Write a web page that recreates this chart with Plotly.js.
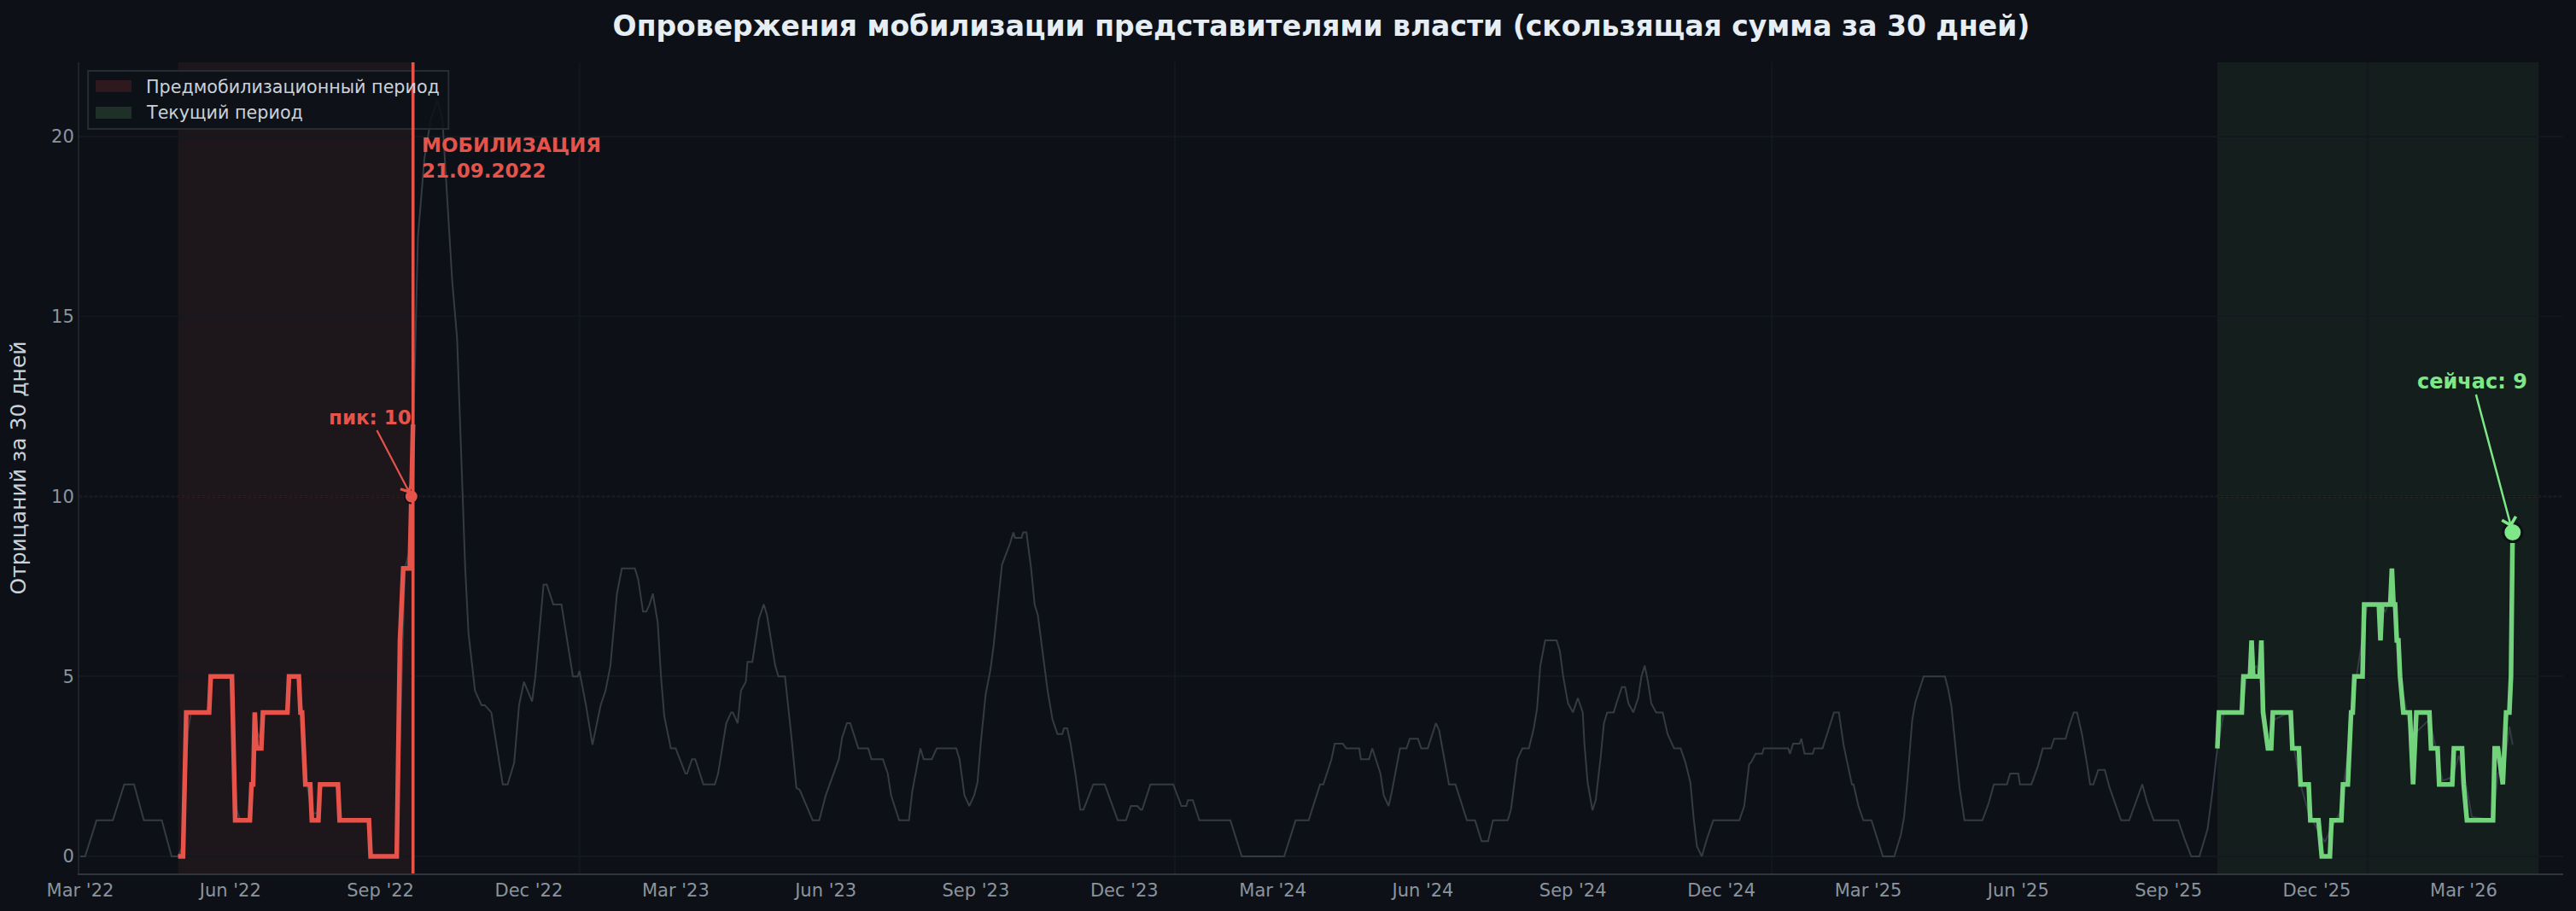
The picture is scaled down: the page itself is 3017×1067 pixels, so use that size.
<!DOCTYPE html>
<html>
<head>
<meta charset="utf-8">
<script src="https://cdn.plot.ly/plotly-3.0.1.min.js"></script>
<style>html,body{margin:0;padding:0;background:#0d1117;}</style>
</head>
<body>
<div id="chart" style="width:3017px;height:1067px;"></div>
<script>
// ---- DATA ----
const chartTitle = "Опровержения мобилизации представителями власти (скользящая сумма за 30 дней)";
const yLabel = "Отрицаний за 30 дней";

// whole series (rolling 30-day sum), [date, value]
const allSeries = [
["2022-03-01",0],["2022-03-04",0],["2022-03-11",1],["2022-03-21",1],["2022-03-28",2],["2022-04-03",2],["2022-04-09",1],["2022-04-20",1],["2022-04-26",0],["2022-04-30",0],
["2022-05-03",0.3],["2022-05-06",3.5],["2022-05-08",4],["2022-05-18",4],["2022-05-21",5],["2022-06-01",5],["2022-06-05",1.3],["2022-06-07",1],["2022-06-12",1],["2022-06-15",2.5],["2022-06-17",3.5],["2022-06-19",3.3],["2022-06-22",4],["2022-07-05",4],["2022-07-08",5],["2022-07-13",5],["2022-07-16",3.5],["2022-07-18",2],["2022-07-21",1.2],["2022-07-25",1.2],["2022-07-27",2],["2022-08-05",2],["2022-08-08",1],["2022-08-24",1],["2022-08-27",0],["2022-09-11",0],["2022-09-14",5],["2022-09-16",8],["2022-09-19",8.5],["2022-09-21",11.5],
["2022-09-24",17.2],["2022-09-28",19.4],["2022-10-02",20.5],["2022-10-06",21],["2022-10-09",20.5],["2022-10-11",19],["2022-10-15",16],["2022-10-18",14.4],["2022-10-21",10.7],["2022-10-23",8],["2022-10-25",6.2],["2022-10-27",5.4],["2022-10-29",4.6],["2022-11-02",4.2],["2022-11-04",4.2],["2022-11-08",4],["2022-11-15",2],["2022-11-18",2],["2022-11-22",2.6],["2022-11-25",4.2],["2022-11-28",4.85],["2022-12-03",4.3],["2022-12-05",5],["2022-12-10",7.55],["2022-12-12",7.55],["2022-12-16",7],["2022-12-21",7],["2022-12-28",5],["2022-12-31",5],
["2023-01-01",5.15],["2023-01-05",4.2],["2023-01-09",3.1],["2023-01-14",4.2],["2023-01-17",4.6],["2023-01-20",5.3],["2023-01-24",7.3],["2023-01-27",8],["2023-02-04",8],["2023-02-06",7.7],["2023-02-09",6.8],["2023-02-11",6.8],["2023-02-13",7],["2023-02-15",7.3],["2023-02-18",6.5],["2023-02-20",5],["2023-02-22",3.9],["2023-02-26",3],["2023-03-01",3],["2023-03-07",2.3],["2023-03-08",2.3],["2023-03-11",2.7],["2023-03-13",2.7],["2023-03-18",2],["2023-03-25",2],["2023-03-27",2.3],["2023-04-01",3.7],["2023-04-04",4],["2023-04-05",4],["2023-04-08",3.7],["2023-04-10",4.6],["2023-04-13",4.85],["2023-04-14",5.4],["2023-04-17",5.4],["2023-04-21",6.6],["2023-04-24",7],["2023-04-26",6.7],["2023-05-01",5.3],["2023-05-03",5],["2023-05-07",5],["2023-05-11",3.3],["2023-05-14",1.9],["2023-05-16",1.85],["2023-05-21",1.3],["2023-05-24",1],["2023-05-28",1],["2023-06-01",1.7],["2023-06-09",2.7],["2023-06-11",3.3],["2023-06-14",3.7],["2023-06-16",3.7],["2023-06-21",3],["2023-06-27",3],["2023-06-29",2.7],["2023-07-06",2.7],["2023-07-09",2.3],["2023-07-11",1.7],["2023-07-16",1],["2023-07-22",1],["2023-07-24",1.8],["2023-07-28",2.8],["2023-07-29",3],["2023-07-31",2.7],["2023-08-05",2.7],["2023-08-08",3],["2023-08-20",3],["2023-08-22",2.7],["2023-08-25",1.7],["2023-08-28",1.4],["2023-08-31",1.7],["2023-09-02",2.05],["2023-09-04",3.15],["2023-09-07",4.5],["2023-09-10",5.2],["2023-09-12",5.9],["2023-09-15",7.25],["2023-09-17",8.1],["2023-09-22",8.7],["2023-09-24",9],["2023-09-25",8.85],["2023-09-29",8.85],["2023-09-30",9],["2023-10-02",9],["2023-10-05",7.95],["2023-10-07",7],["2023-10-09",6.7],["2023-10-12",5.7],["2023-10-15",4.6],["2023-10-18",3.8],["2023-10-21",3.4],["2023-10-24",3.4],["2023-10-25",3.56],["2023-10-27",3.56],["2023-10-29",3.15],["2023-11-01",2.3],["2023-11-04",1.3],["2023-11-06",1.3],["2023-11-12",2],["2023-11-19",2],["2023-11-27",1],["2023-12-02",1],["2023-12-05",1.4],["2023-12-09",1.4],["2023-12-11",1.3],["2023-12-12",1.3],["2023-12-17",2],["2023-12-31",2],
["2024-01-05",1.4],["2024-01-08",1.4],["2024-01-09",1.56],["2024-01-12",1.56],["2024-01-16",1],["2024-02-04",1],["2024-02-11",0],["2024-03-08",0],["2024-03-15",1],["2024-03-23",1],["2024-03-30",2],["2024-04-01",2],["2024-04-06",2.7],["2024-04-08",3.13],["2024-04-13",3.13],["2024-04-15",3],["2024-04-23",3],["2024-04-24",2.7],["2024-04-29",2.7],["2024-05-01",3],["2024-05-06",2.3],["2024-05-08",1.7],["2024-05-11",1.4],["2024-05-13",1.8],["2024-05-18",3],["2024-05-22",3],["2024-05-24",3.27],["2024-05-29",3.27],["2024-05-31",3],["2024-06-04",3],["2024-06-09",3.7],["2024-06-11",3.5],["2024-06-14",2.7],["2024-06-17",2],["2024-06-21",2],["2024-06-28",1],["2024-07-03",1],["2024-07-07",0.42],["2024-07-11",0.42],["2024-07-14",1],["2024-07-23",1],["2024-07-25",1.3],["2024-07-29",2.7],["2024-08-01",3],["2024-08-05",3],["2024-08-08",3.56],["2024-08-10",4.1],["2024-08-12",5.3],["2024-08-15",6],["2024-08-22",6],["2024-08-24",5.7],["2024-08-26",5],["2024-08-29",4.25],["2024-09-01",4],["2024-09-04",4.4],["2024-09-07",4],["2024-09-08",3.15],["2024-09-10",2.05],["2024-09-13",1.28],["2024-09-15",1.57],["2024-09-18",2.76],["2024-09-20",3.7],["2024-09-22",4],["2024-09-26",4],["2024-09-28",4.3],["2024-10-01",4.7],["2024-10-03",4.7],["2024-10-05",4.25],["2024-10-08",4],["2024-10-11",4.4],["2024-10-13",5],["2024-10-15",5.3],["2024-10-17",4.85],["2024-10-19",4.25],["2024-10-22",4],["2024-10-26",4],["2024-10-29",3.4],["2024-11-02",3],["2024-11-06",3],["2024-11-09",2.6],["2024-11-12",2.05],["2024-11-14",1.06],["2024-11-16",0.28],["2024-11-19",0],["2024-11-22",0.47],["2024-11-26",1],["2024-12-12",1],["2024-12-15",1.4],["2024-12-18",2.56],["2024-12-19",2.6],["2024-12-22",2.85],["2024-12-26",2.85],["2024-12-27",3],
["2025-01-11",3],["2025-01-12",2.85],["2025-01-14",3.13],["2025-01-18",3.13],["2025-01-19",3.27],["2025-01-21",2.85],["2025-01-26",2.85],["2025-01-27",3],["2025-02-01",3],["2025-02-08",4],["2025-02-11",4],["2025-02-14",3.07],["2025-02-19",2],["2025-02-20",2],["2025-02-23",1.4],["2025-02-26",1],["2025-03-03",1],["2025-03-10",0],["2025-03-17",0],["2025-03-21",0.6],["2025-03-23",1.1],["2025-03-25",2.1],["2025-03-28",3.8],["2025-03-30",4.3],["2025-04-04",5],["2025-04-17",5],["2025-04-19",4.65],["2025-04-21",4.17],["2025-04-24",2.9],["2025-04-26",1.9],["2025-04-29",1],["2025-05-10",1],["2025-05-14",1.5],["2025-05-17",2],["2025-05-25",2],["2025-05-27",2.3],["2025-06-01",2.3],["2025-06-02",2],["2025-06-09",2],["2025-06-13",2.5],["2025-06-16",3],["2025-06-21",3],["2025-06-23",3.27],["2025-06-30",3.27],["2025-07-02",3.6],["2025-07-05",4],["2025-07-07",4],["2025-07-10",3.4],["2025-07-13",2.6],["2025-07-15",2],["2025-07-17",2],["2025-07-20",2.4],["2025-07-24",2.4],["2025-07-27",1.9],["2025-08-03",1],["2025-08-08",1],["2025-08-12",1.5],["2025-08-16",2],["2025-08-19",1.5],["2025-08-23",1],["2025-09-07",1],["2025-09-11",0.47],["2025-09-15",0],["2025-09-20",0],["2025-09-25",0.75],["2025-09-28",1.8],["2025-10-01",3],
["2025-10-05",4],["2025-10-16",4],["2025-10-19",5],["2025-10-25",5.3],["2025-10-29",4.5],["2025-11-01",3.3],["2025-11-05",3.8],["2025-11-14",4],["2025-11-17",3],["2025-11-21",2],["2025-11-26",1.2],["2025-12-02",0.7],["2025-12-06",0.4],["2025-12-10",0.8],["2025-12-15",1.2],["2025-12-19",2.5],["2025-12-23",4.3],["2025-12-28",5.8],["2026-01-01",7],["2026-01-08",7],["2026-01-12",6.8],["2026-01-16",7.3],["2026-01-19",6.3],["2026-01-23",4.5],["2026-01-28",3.3],["2026-02-01",3.5],["2026-02-08",3.8],["2026-02-12",3],["2026-02-16",2.1],["2026-02-22",2.2],["2026-02-26",2.8],["2026-03-02",2.1],["2026-03-06",1.1],["2026-03-19",1],["2026-03-22",2.3],["2026-03-26",2.5],["2026-03-29",3.6],["2026-03-31",3.1]
];

// pre-mobilization period (daily rolling sum)
const preMobSeries = [
["2022-04-30",0],["2022-05-03",0],["2022-05-05",4],["2022-05-19",4],["2022-05-20",5],["2022-06-02",5],["2022-06-04",1],["2022-06-13",1],["2022-06-14",2],["2022-06-15",2],["2022-06-16",4],["2022-06-17",3],["2022-06-20",3],["2022-06-21",4],["2022-07-06",4],["2022-07-07",5],["2022-07-13",5],["2022-07-14",4],["2022-07-15",4],["2022-07-17",2],["2022-07-20",2],["2022-07-21",1],["2022-07-25",1],["2022-07-26",2],["2022-08-06",2],["2022-08-07",1],["2022-08-25",1],["2022-08-26",0],["2022-09-11",0],["2022-09-13",6],["2022-09-15",8],["2022-09-19",8],["2022-09-20",10],["2022-09-21",12]
];

// current period (daily rolling sum)
const currentSeries = [
["2025-10-01",3],["2025-10-02",4],["2025-10-16",4],["2025-10-17",5],["2025-10-21",5],["2025-10-22",6],["2025-10-23",5],["2025-10-27",5],["2025-10-28",6],["2025-10-29",4],["2025-11-01",3],["2025-11-03",3],["2025-11-04",4],["2025-11-15",4],["2025-11-16",3],["2025-11-20",3],["2025-11-21",2],["2025-11-26",2],["2025-11-27",1],["2025-12-02",1],["2025-12-04",0],["2025-12-09",0],["2025-12-10",1],["2025-12-16",1],["2025-12-17",2],["2025-12-20",2],["2025-12-21",3],["2025-12-22",4],["2025-12-23",4],["2025-12-24",5],["2025-12-29",5],["2025-12-30",7],["2026-01-08",7],["2026-01-09",6],["2026-01-10",7],["2026-01-15",7],["2026-01-16",8],["2026-01-17",7],["2026-01-18",7],["2026-01-19",6],["2026-01-20",6],["2026-01-21",5],["2026-01-23",4],["2026-01-27",4],["2026-01-29",2],["2026-01-30",3],["2026-01-31",4],["2026-02-08",4],["2026-02-09",3],["2026-02-13",3],["2026-02-14",2],["2026-02-22",2],["2026-02-23",3],["2026-02-28",3],["2026-03-01",2],["2026-03-03",1],["2026-03-19",1],["2026-03-20",3],["2026-03-22",3],["2026-03-25",2],["2026-03-27",4],["2026-03-29",4],["2026-03-30",5],["2026-03-31",9]
];

const mobilizationDate = "2022-09-21";
const prePeriod = ["2022-04-30", "2022-09-21"];
const currentPeriod = ["2025-10-01", "2026-04-16"];
const peakPoint = ["2022-09-20", 10];
const nowPoint = ["2026-03-31", 9];
const thresholdValue = 10;
const yearStarts = ["2023-01-01", "2024-01-01", "2025-01-01", "2026-01-01"];
const legendNames = ["Предмобилизационный период", "Текущий период"];
const mobLabel = "МОБИЛИЗАЦИЯ<br>21.09.2022";
const peakLabel = "пик: " + peakPoint[1];
const nowLabel = "сейчас: " + nowPoint[1];

// ---- STYLE ----
const BG = "#0d1117", RED = "#e5534b", GREEN = "rgba(126,231,135,0.9)", GREY = "#353b43";
const FONT = "DejaVu Sans, Verdana, sans-serif";
const GRID = "#13181f";

const xs = a => a.map(p => p[0]);
const ys = a => a.map(p => p[1]);

const traces = [
  {x: xs(allSeries), y: ys(allSeries), type: "scatter", mode: "lines",
   line: {color: GREY, width: 2}, showlegend: false, hoverinfo: "skip"},
  {x: xs(preMobSeries), y: ys(preMobSeries), type: "scatter", mode: "lines",
   line: {color: RED, width: 5.5}, showlegend: false},
  {x: xs(currentSeries), y: ys(currentSeries), type: "scatter", mode: "lines",
   line: {color: GREEN, width: 5.5}, showlegend: false},
  {x: [peakPoint[0]], y: [peakPoint[1]], type: "scatter", mode: "markers",
   marker: {color: RED, size: 16, line: {color: BG, width: 2}}, showlegend: false},
  {x: [nowPoint[0]], y: [nowPoint[1]], type: "scatter", mode: "markers",
   marker: {color: "#7ee787", size: 22, line: {color: BG, width: 3}}, showlegend: false}
];

const shapes = [
  {type: "rect", xref: "x", yref: "paper", x0: prePeriod[0], x1: prePeriod[1], y0: 0, y1: 1,
   fillcolor: "rgba(229,83,75,0.08)", line: {width: 0}, layer: "below"},
  {type: "rect", xref: "x", yref: "paper", x0: currentPeriod[0], x1: currentPeriod[1], y0: 0, y1: 1,
   fillcolor: "rgba(126,231,135,0.06)", line: {width: 0}, layer: "below"}
];
yearStarts.forEach(d => shapes.push({type: "line", xref: "x", yref: "paper", x0: d, x1: d, y0: 0, y1: 1,
  line: {color: GRID, width: 2}, layer: "below"}));
shapes.push({type: "line", xref: "paper", yref: "y", x0: 0, x1: 1, y0: thresholdValue, y1: thresholdValue,
  line: {color: "rgba(229,83,75,0.4)", width: 1.5, dash: "dot"}, layer: "below"});

// legend box (drawn by hand so the swatches are wide patches)
shapes.push({type: "rect", xref: "paper", yref: "paper", x0: 0.0035, x1: 0.1486, y0: 0.918, y1: 0.9895,
  fillcolor: "rgba(13,17,23,0.85)", line: {color: "#262c34", width: 2}, layer: "above"});
shapes.push({type: "rect", xref: "paper", yref: "paper", x0: 0.0065, x1: 0.021, y0: 0.9634, y1: 0.9779,
  fillcolor: "#2e1a1e", line: {width: 0}, layer: "above"});
shapes.push({type: "rect", xref: "paper", yref: "paper", x0: 0.0065, x1: 0.021, y0: 0.9305, y1: 0.9453,
  fillcolor: "#1e3028", line: {width: 0}, layer: "above"});

// mobilization line drawn over everything
shapes.push({type: "line", xref: "x", yref: "paper", x0: mobilizationDate, x1: mobilizationDate, y0: 0, y1: 1,
  line: {color: RED, width: 3.6}, layer: "above"});

const annotations = [
  {x: mobilizationDate, y: 19.4, xref: "x", yref: "y", text: "<b>" + mobLabel + "</b>", showarrow: false,
   xanchor: "left", yanchor: "middle", align: "left", xshift: 8,
   font: {family: FONT, size: 23, color: RED}},
  {x: peakPoint[0], y: peakPoint[1], xref: "x", yref: "y", text: "<b>" + peakLabel + "</b>",
   showarrow: true, ax: -48, ay: -92, arrowhead: 4, arrowsize: 1.3, arrowwidth: 2.2, arrowcolor: RED,
   standoff: 4, font: {family: FONT, size: 23, color: RED}},
  {x: nowPoint[0], y: nowPoint[1], xref: "x", yref: "y", text: "<b>" + nowLabel + "</b>",
   showarrow: true, ax: -47, ay: -177, arrowhead: 4, arrowsize: 1.3, arrowwidth: 2.5, arrowcolor: "#7ee787",
   standoff: 6, font: {family: FONT, size: 24, color: "#7ee787"}},
  {x: 0.0265, y: 0.9698, xref: "paper", yref: "paper", text: legendNames[0], showarrow: false,
   xanchor: "left", yanchor: "middle", borderpad: 0, font: {family: FONT, size: 20.7, color: "#c9d1d9"}},
  {x: 0.0265, y: 0.9375, xref: "paper", yref: "paper", text: legendNames[1], showarrow: false,
   xanchor: "left", yanchor: "middle", borderpad: 0, font: {family: FONT, size: 20.7, color: "#c9d1d9"}}
];

const layout = {
  width: 3017, height: 1067,
  paper_bgcolor: BG, plot_bgcolor: BG,
  font: {family: FONT, color: "#c9d1d9"},
  margin: {l: 93, r: 15, t: 73, b: 44},
  title: {text: "<b>" + chartTitle + "</b>", font: {family: FONT, size: 33, color: "#e6edf3"},
          x: 0.5, xref: "paper", xanchor: "center", y: 0.971, yref: "container", yanchor: "middle"},
  xaxis: {type: "date", range: ["2022-02-28T12:00", "2026-05-01"], tick0: "2022-03-01", dtick: "M3",
          tickformat: "%b '%y", showgrid: false, zeroline: false, showline: true,
          linecolor: "#30363d", linewidth: 2, ticks: "", tickfont: {family: FONT, size: 21, color: "#8b949e"}},
  yaxis: {range: [-0.474, 22.06], tickvals: [0, 5, 10, 15, 20], showgrid: true, gridcolor: GRID, gridwidth: 1.5,
          zeroline: false, showline: true, linecolor: "#1f242b", linewidth: 2, ticks: "",
          tickfont: {family: FONT, size: 21, color: "#8b949e"},
          title: {text: yLabel, font: {family: FONT, size: 25, color: "#c9d1d9"}, standoff: 22}},
  shapes: shapes,
  annotations: annotations,
  showlegend: false
};

Plotly.newPlot("chart", traces, layout, {staticPlot: true, displayModeBar: false});
</script>
</body>
</html>
